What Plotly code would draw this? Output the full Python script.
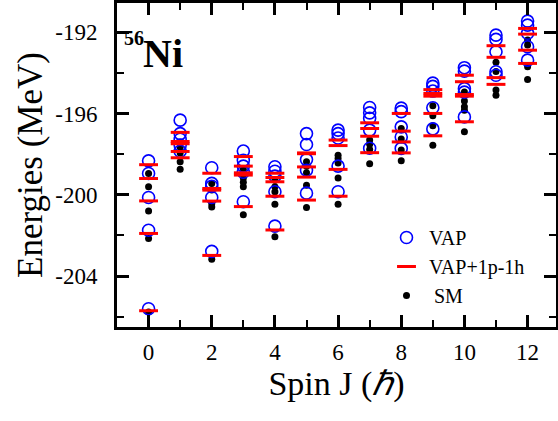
import plotly.graph_objects as go

spins = [0, 1, 2, 3, 4, 5, 6, 7, 8, 9, 10, 11, 12]

vap = [
    [-198.33, -198.95, -200.13, -201.74, -205.60],
    [-196.33, -196.99, -197.27, -197.56, -197.86],
    [-198.67, -199.44, -199.58, -200.13, -202.78],
    [-197.85, -198.30, -198.59, -198.89, -200.34],
    [-198.62, -198.84, -199.08, -199.85, -201.54],
    [-196.99, -197.53, -198.27, -198.79, -199.92],
    [-196.82, -196.99, -197.21, -198.59, -199.85],
    [-195.71, -195.97, -196.24, -196.82, -197.71],
    [-195.74, -195.91, -196.66, -197.16, -197.72],
    [-194.51, -194.67, -194.90, -195.72, -196.76],
    [-193.75, -193.92, -194.78, -194.95, -196.17],
    [-192.15, -192.36, -192.97, -193.95, -194.12],
    [-191.46, -191.66, -192.06, -192.72, -193.38],
]

vap_1p1h = [
    [-198.52, -199.20, -200.30, -201.90, -205.70],
    [-196.93, -197.38, -197.49, -197.87, -198.18],
    [-198.94, -199.69, -199.77, -200.31, -202.98],
    [-198.12, -198.59, -198.92, -199.03, -200.58],
    [-198.94, -199.15, -199.36, -200.07, -201.73],
    [-197.94, -197.98, -198.63, -199.13, -200.26],
    [-197.31, -197.58, -198.75, -200.07],
    [-196.46, -196.74, -197.12, -197.93],
    [-196.00, -196.87, -197.40, -197.94],
    [-194.83, -195.02, -195.15, -196.00, -197.10],
    [-194.12, -194.44, -195.07, -195.15, -196.41],
    [-192.67, -193.24, -194.24, -194.57],
    [-191.82, -192.10, -192.89, -193.54],
]

sm = [
    [-198.95, -199.60, -200.80, -202.15, -205.76],
    [-197.66, -197.95, -198.38, -198.75],
    [-199.45, -199.77, -200.44, -200.60, -203.17],
    [-198.76, -199.18, -199.38, -199.61, -200.98],
    [-199.28, -199.61, -199.85, -200.46, -202.06],
    [-198.38, -198.60, -198.91, -199.53, -200.62],
    [-198.05, -198.22, -198.44, -199.18, -200.46],
    [-197.31, -197.51, -197.77, -198.47],
    [-196.74, -197.26, -197.80, -198.32],
    [-195.62, -196.11, -196.61, -197.56],
    [-194.95, -195.39, -195.67, -195.84, -196.90],
    [-193.48, -193.94, -194.85, -195.10],
    [-192.39, -192.64, -193.71, -194.33],
]

y_ticks = [-192, -196, -200, -204]
y_ticktext = ["-192", "-196", "-200", "-204"]
x_ticks = [0, 2, 4, 6, 8, 10, 12]
x_ticktext = ["0", "2", "4", "6", "8", "10", "12"]


def flatten(series):
    xs, ys = [], []
    for j, vals in zip(spins, series):
        for v in vals:
            xs.append(j)
            ys.append(v)
    return xs, ys


FONT = "Liberation Serif"

fig = go.Figure()

x, y = flatten(sm)
fig.add_trace(go.Scatter(x=x, y=y, mode="markers", name=" SM", legendrank=3,
                         marker=dict(symbol="circle", size=7, color="black")))
x, y = flatten(vap)
fig.add_trace(go.Scatter(x=x, y=y, mode="markers", name="VAP", legendrank=1,
                         marker=dict(symbol="circle-open", size=12, color="#0000ff",
                                     line=dict(width=1.6, color="#0000ff"))))
x, y = flatten(vap_1p1h)
fig.add_trace(go.Scatter(x=x, y=y, mode="markers", name="VAP+1p-1h", legendrank=2,
                         marker=dict(symbol="line-ew", size=13.5, color="#ff0000",
                                     line=dict(width=3, color="#ff0000"))))

axis_common = dict(
    showline=True, linewidth=3, linecolor="black", mirror="ticks",
    ticks="inside", ticklen=12, tickwidth=2.5, tickcolor="black",
    showgrid=False, zeroline=False, automargin=False,
    tickfont=dict(family=FONT, size=23, color="black"),
)

fig.update_xaxes(
    range=[-1, 12.9], tickvals=x_ticks, ticktext=x_ticktext, ticklabelstandoff=2,
    minor=dict(dtick=1, tick0=0, ticks="inside", ticklen=7, tickwidth=2, tickcolor="black"),
    title=dict(text="Spin J (<i>ℏ</i>)", font=dict(family=FONT, size=34, color="black"), standoff=8),
    **axis_common,
)
fig.update_yaxes(
    range=[-206.5, -190.57], tickvals=y_ticks, ticktext=y_ticktext, ticklabelstandoff=12,
    minor=dict(dtick=2, tick0=-192, ticks="inside", ticklen=7, tickwidth=2, tickcolor="black"),
    title=dict(text="Energies (MeV)", font=dict(family=FONT, size=35, color="black"), standoff=2),
    **axis_common,
)

fig.add_annotation(
    text="<b>56</b>", xref="paper", yref="paper",
    x=(122 - 117) / 439, y=(327 - 25) / 324, xanchor="left", yanchor="top", showarrow=False,
    font=dict(family=FONT, size=20, color="black"),
)
fig.add_annotation(
    text="<b>Ni</b>", xref="paper", yref="paper",
    x=(141 - 117) / 439, y=(327 - 29) / 324, xanchor="left", yanchor="top", showarrow=False,
    font=dict(family=FONT, size=40, color="black"),
)

fig.update_layout(
    width=558, height=421,
    margin=dict(l=117, r=2, t=3, b=94),
    plot_bgcolor="white", paper_bgcolor="white",
    showlegend=True,
    legend=dict(x=(384 - 117) / 439, y=(327 - 218) / 324, xanchor="left", yanchor="top",
                itemwidth=35,
                bgcolor="rgba(0,0,0,0)", font=dict(family=FONT, size=20, color="black")),
)

fig.write_html("out.html", config={"displayModeBar": False},
               post_script="document.body.style.margin='0px';document.body.style.padding='0px';")
